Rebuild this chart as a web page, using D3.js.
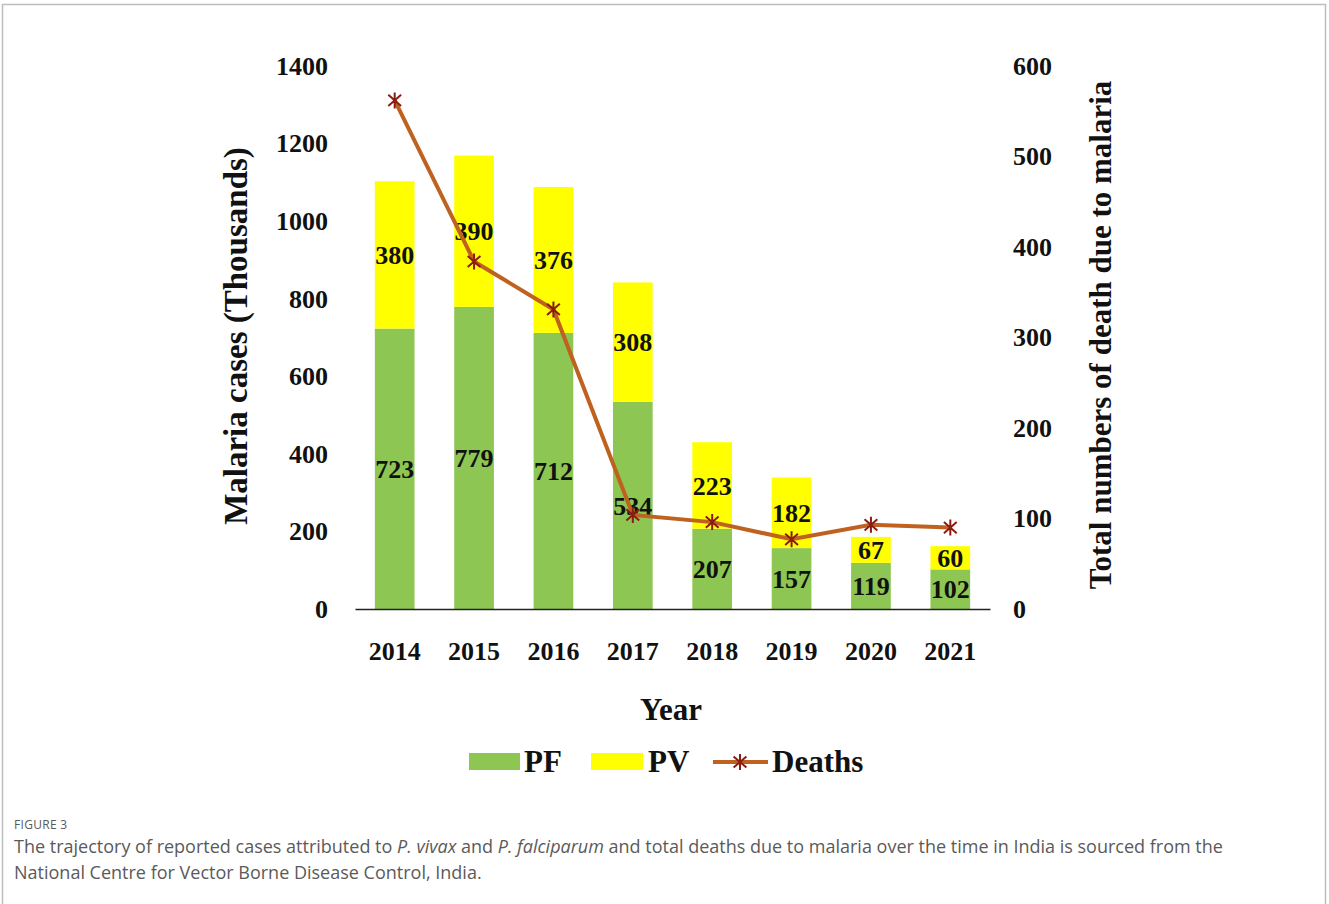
<!DOCTYPE html>
<html>
<head>
<meta charset="utf-8">
<script src="https://cdn.jsdelivr.net/npm/d3@7"></script>
<style>
  body { margin: 0; background: #fff; }
  svg { display: block; }
</style>
</head>
<body>
<svg width="1329" height="904"></svg>
<script>
// chart values
var years = ["2014", "2015", "2016", "2017", "2018", "2019", "2020", "2021"];
var pf = [723, 779, 712, 534, 207, 157, 119, 102];
var pv = [380, 390, 376, 308, 223, 182, 67, 60];
var deaths = [562, 384, 331, 104, 96, 77, 93, 90];
var leftTicks = [0, 200, 400, 600, 800, 1000, 1200, 1400];
var rightTicks = [0, 100, 200, 300, 400, 500, 600];

var svg = d3.select("svg");
var serif = "'Liberation Serif', 'Times New Roman', serif";
var green = "#8dc653", yellow = "#ffff00", lineCol = "#bf6220", markCol = "#8a1c12";

// frame
svg.append("rect")
  .attr("x", 2.5).attr("y", 4.5)
  .attr("width", 1323).attr("height", 920)
  .attr("fill", "none").attr("stroke", "#bdbdbd").attr("stroke-width", 1.5);

var x = d3.scaleBand().domain(years).range([355, 990])
  .paddingInner(0.5).paddingOuter(0.25);
var yL = d3.scaleLinear().domain([0, 1400]).range([609, 66]);
var yR = d3.scaleLinear().domain([0, 600]).range([609, 66]);

var data = years.map(function(y, i) {
  return { year: y, PF: pf[i], PV: pv[i], deaths: deaths[i] };
});
var stack = d3.stack().keys(["PF", "PV"])(data);
var colors = { PF: green, PV: yellow };

var g = svg.append("g");
g.selectAll("g.layer")
  .data(stack)
  .enter().append("g")
    .attr("class", "layer")
    .attr("fill", function(d) { return colors[d.key]; })
  .selectAll("rect")
  .data(function(d) { return d; })
  .enter().append("rect")
    .attr("x", function(d) { return x(d.data.year); })
    .attr("y", function(d) { return yL(d[1]); })
    .attr("width", x.bandwidth())
    .attr("height", function(d) { return yL(d[0]) - yL(d[1]); });

// segment labels
stack.forEach(function(layer) {
  g.selectAll(null)
    .data(layer)
    .enter().append("text")
      .attr("x", function(d) { return x(d.data.year) + x.bandwidth() / 2; })
      .attr("y", function(d) { return (yL(d[0]) + yL(d[1])) / 2; })
      .attr("dy", "0.35em")
      .attr("text-anchor", "middle")
      .attr("font-family", serif)
      .attr("font-weight", "bold")
      .attr("font-size", 26)
      .attr("fill", "#111")
      .text(function(d) { return d.data[layer.key]; });
});

// x axis
var xAxis = g.append("g")
  .attr("transform", "translate(0,609)")
  .call(d3.axisBottom(x).tickSize(0).tickPadding(33));
xAxis.select(".domain").attr("stroke", "#222").attr("stroke-width", 1.6);
xAxis.selectAll("text")
  .attr("font-family", serif).attr("font-weight", "bold")
  .attr("font-size", 26).attr("fill", "#111");

// left axis
var lAxis = g.append("g")
  .attr("transform", "translate(330,0)")
  .call(d3.axisLeft(yL).tickValues(leftTicks).tickFormat(d3.format("d")).tickSize(0).tickPadding(2));
lAxis.select(".domain").remove();
lAxis.selectAll("text")
  .attr("font-family", serif).attr("font-weight", "bold")
  .attr("font-size", 26).attr("fill", "#111");

// right axis
var rAxis = g.append("g")
  .attr("transform", "translate(1011,0)")
  .call(d3.axisRight(yR).tickValues(rightTicks).tickFormat(d3.format("d")).tickSize(0).tickPadding(2));
rAxis.select(".domain").remove();
rAxis.selectAll("text")
  .attr("font-family", serif).attr("font-weight", "bold")
  .attr("font-size", 26).attr("fill", "#111");

// deaths line
var line = d3.line()
  .x(function(d) { return x(d.year) + x.bandwidth() / 2; })
  .y(function(d) { return yR(d.deaths); });
g.append("path")
  .datum(data)
  .attr("fill", "none")
  .attr("stroke", lineCol)
  .attr("stroke-width", 4)
  .attr("d", line);

function star(sel, cx, cy, r) {
  var p = "M" + cx + "," + (cy - r) + "V" + (cy + r) +
    "M" + (cx - r * 0.8) + "," + (cy - r * 0.7) + "L" + (cx + r * 0.8) + "," + (cy + r * 0.7) +
    "M" + (cx - r * 0.8) + "," + (cy + r * 0.7) + "L" + (cx + r * 0.8) + "," + (cy - r * 0.7);
  sel.append("path").attr("d", p)
    .attr("stroke", markCol).attr("stroke-width", 2).attr("fill", "none");
}
data.forEach(function(d) {
  star(g, x(d.year) + x.bandwidth() / 2, yR(d.deaths), 8);
});

// axis titles
g.append("text")
  .attr("transform", "translate(247,336) rotate(-90)")
  .attr("text-anchor", "middle")
  .attr("font-family", serif).attr("font-weight", "bold")
  .attr("font-size", 33).attr("fill", "#111")
  .text("Malaria cases (Thousands)");

g.append("text")
  .attr("transform", "translate(1111,335) rotate(-90)")
  .attr("text-anchor", "middle")
  .attr("font-family", serif).attr("font-weight", "bold")
  .attr("font-size", 31).attr("fill", "#111")
  .text("Total numbers of death due to malaria");

g.append("text")
  .attr("x", 671).attr("y", 720)
  .attr("text-anchor", "middle")
  .attr("font-family", serif).attr("font-weight", "bold")
  .attr("font-size", 31).attr("fill", "#111")
  .text("Year");

// legend
var leg = g.append("g").attr("font-family", serif).attr("font-weight", "bold")
  .attr("font-size", 31).attr("fill", "#111");
leg.append("rect").attr("x", 469).attr("y", 753).attr("width", 51).attr("height", 17).attr("fill", green);
leg.append("text").attr("x", 524).attr("y", 772).text("PF");
leg.append("rect").attr("x", 591).attr("y", 753).attr("width", 52).attr("height", 17).attr("fill", yellow);
leg.append("text").attr("x", 648).attr("y", 772).text("PV");
leg.append("line").attr("x1", 713).attr("x2", 768).attr("y1", 762).attr("y2", 762)
  .attr("stroke", lineCol).attr("stroke-width", 4);
star(leg, 740, 762, 8);
leg.append("text").attr("x", 772).attr("y", 772).text("Deaths");

// caption
var cap = svg.append("g").attr("font-family", "'Open Sans', 'Noto Sans', sans-serif").attr("fill", "#5a5a5a");
cap.append("text").attr("x", 14).attr("y", 829).attr("font-size", 12)
  .attr("letter-spacing", 0.3).text("FIGURE 3");
var l1 = cap.append("text").attr("x", 14).attr("y", 853).attr("font-size", 18);
l1.append("tspan").text("The trajectory of reported cases attributed to ");
l1.append("tspan").attr("font-style", "italic").text("P. vivax");
l1.append("tspan").text(" and ");
l1.append("tspan").attr("font-style", "italic").text("P. falciparum");
l1.append("tspan").text(" and total deaths due to malaria over the time in India is sourced from the");
cap.append("text").attr("x", 14).attr("y", 879).attr("font-size", 18)
  .text("National Centre for Vector Borne Disease Control, India.");
</script>
</body>
</html>
